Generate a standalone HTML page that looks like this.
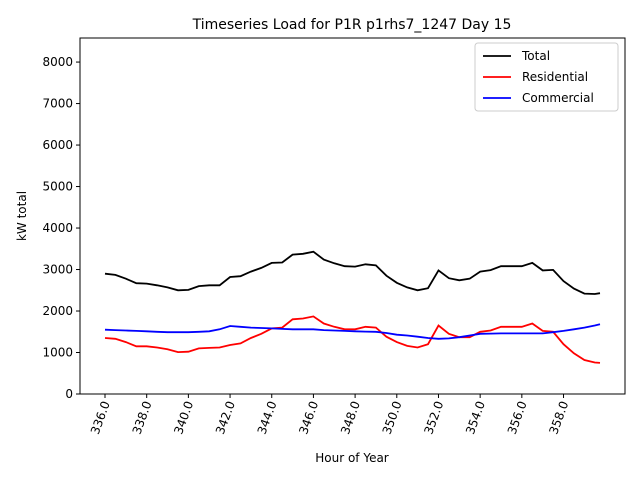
<!DOCTYPE html>
<html><head><meta charset="utf-8"><style>
body{margin:0;background:#fff}
svg{font-family:"DejaVu Sans","Liberation Sans",sans-serif}
</style></head><body>
<svg id="c" width="640" height="480"></svg>
<script>
const hours=[336,336.5,337,337.5,338,338.5,339,339.5,340,340.5,341,341.5,342,342.5,343,343.5,344,344.5,345,345.5,346,346.5,347,347.5,348,348.5,349,349.5,350,350.5,351,351.5,352,352.5,353,353.5,354,354.5,355,355.5,356,356.5,357,357.5,358,358.5,359,359.5,359.75];
const residential=[1350,1330,1250,1150,1150,1120,1080,1010,1020,1100,1110,1120,1180,1220,1350,1450,1580,1600,1800,1820,1870,1700,1620,1560,1560,1620,1600,1380,1250,1160,1120,1200,1650,1450,1370,1370,1500,1530,1620,1620,1620,1700,1520,1500,1200,980,820,760,750];
const commercial=[1550,1540,1530,1520,1510,1500,1490,1490,1490,1500,1510,1560,1640,1620,1600,1590,1580,1570,1560,1560,1560,1540,1530,1520,1510,1505,1500,1470,1430,1410,1380,1350,1330,1340,1370,1410,1450,1455,1460,1460,1460,1460,1460,1490,1520,1560,1600,1650,1680];
const total=[2900,2870,2780,2670,2660,2620,2570,2500,2510,2600,2620,2620,2820,2840,2950,3040,3160,3170,3360,3380,3430,3240,3150,3080,3070,3125,3100,2850,2680,2570,2500,2550,2980,2790,2740,2780,2950,2985,3080,3080,3080,3160,2980,2990,2720,2540,2420,2410,2430];
const xTicks=[336,338,340,342,344,346,348,350,352,354,356,358];
const yTicks=[0,1000,2000,3000,4000,5000,6000,7000,8000];
const L=80,R=625,T=38,B=394,xmin=334.8,xmax=360.95,ymax=8580;
const X=v=>L+(v-xmin)/(xmax-xmin)*(R-L);
const Y=v=>B-v/ymax*(B-T);
const svg=document.getElementById('c');const NS='http://www.w3.org/2000/svg';
function mk(t,a,p){const e=document.createElementNS(NS,t);for(const k in a)e.setAttribute(k,a[k]);(p||svg).appendChild(e);return e;}
let e;
e=mk('text',{x:352,y:29,'font-size':14,'text-anchor':'middle'});e.textContent='Timeseries Load for P1R p1rhs7_1247  Day 15';


function line(arr,col,name){const pts=hours.map((h,i)=>X(h).toFixed(1)+','+Y(arr[i]).toFixed(1)).join(' ');
const p=mk('polyline',{points:pts,fill:'none',stroke:col,'stroke-width':1.8});

}
line(total,'#000','total-line');line(residential,'#f00','residential-line');line(commercial,'#00f','commercial-line');
e=mk('rect',{x:L,y:T,width:R-L,height:B-T,fill:'none',stroke:'#000','stroke-width':1});


yTicks.forEach(v=>{const y=Y(v);mk('line',{x1:L-4,x2:L,y1:y,y2:y,stroke:'#000'});
const t=mk('text',{x:L-7,y:y+4,'font-size':12,'text-anchor':'end'});t.textContent=v;

});
xTicks.forEach(v=>{const x=X(v);mk('line',{x1:x,x2:x,y1:B,y2:B+4,stroke:'#000'});
const t=mk('text',{x:0,y:0,'font-size':12,'text-anchor':'end',transform:`translate(${x+5},${B+9}) rotate(-70)`});t.textContent=v.toFixed(1);

});
e=mk('text',{x:352,y:462,'font-size':12,'text-anchor':'middle'});e.textContent='Hour of Year';


e=mk('text',{x:0,y:0,'font-size':12,'text-anchor':'middle',transform:'translate(26,216) rotate(-90)'});e.textContent='kW total';


const g=mk('g',{});
mk('rect',{x:475,y:43,width:143,height:68,rx:3,fill:'#fff',stroke:'#ccc'},g);
[['Total','#000'],['Residential','#f00'],['Commercial','#00f']].forEach((d,i)=>{const y=56+i*21;
mk('line',{x1:483,x2:511,y1:y,y2:y,stroke:d[1],'stroke-width':1.8},g);
const t=mk('text',{x:522,y:y+4,'font-size':12},g);t.textContent=d[0];

});
</script>
</body></html>
